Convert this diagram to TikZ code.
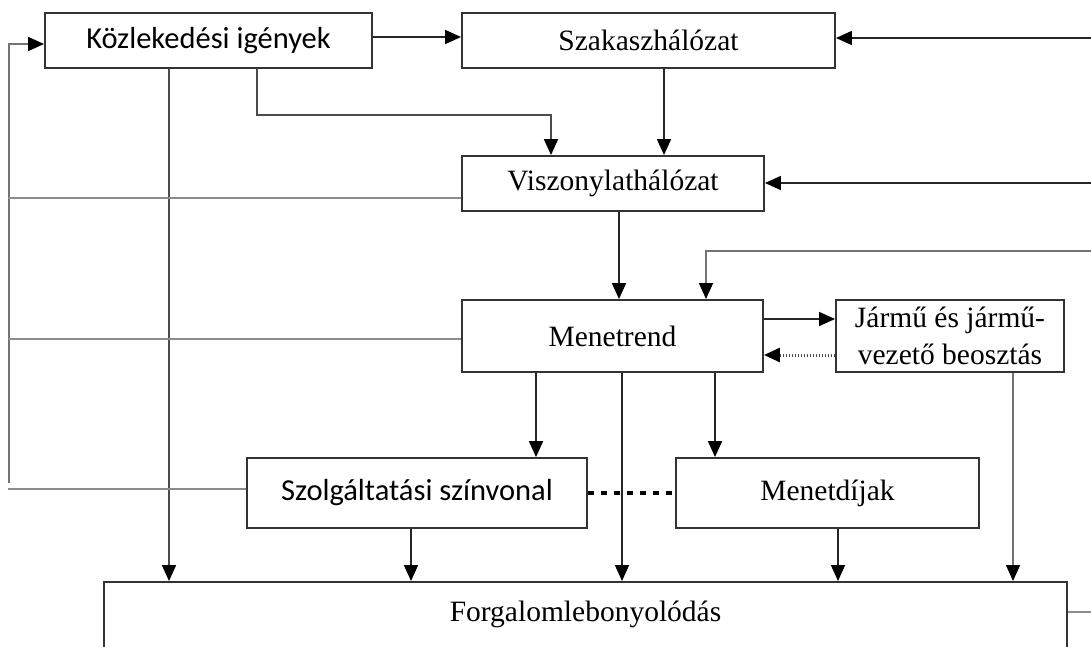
\documentclass[tikz,border=0pt]{standalone}
\usepackage{fontspec}
\newfontfamily\timesfont{Liberation Serif}
\newfontfamily\calibrifont{Carlito}
\usetikzlibrary{arrows.meta}

\begin{document}
\begin{tikzpicture}[x=1pt,y=-1pt,
  box/.style={draw=black!80, line width=1.9pt, rectangle, inner sep=0pt},
  tnr/.style={font=\timesfont\fontsize{29.5}{37}\selectfont, align=center},
  cbr/.style={font=\calibrifont\fontsize{30.5}{37}\selectfont},
  arr/.style={line width=1.8pt, draw=black!85, -{Triangle[length=16pt,width=14pt,fill=black,color=black]}},
  darkarr/.style={arr, draw=black!70},
  greyarr/.style={arr, line width=1.5pt, draw=black!55},
  gline/.style={line width=1.5pt, draw=black!45},
  dotarr/.style={arr, line width=3pt, draw=black!70, dash pattern=on 1.5pt off 1.5pt},
  dotline/.style={line width=3.5pt, draw=black, dash pattern=on 6pt off 7pt}
]
\useasboundingbox (0,0) rectangle (1091,646);

% blocks
\node[box,cbr,minimum width=327pt,minimum height=55pt] (kozl)  at (208.5,40.5) {Közlekedési igények};
\node[box,tnr,minimum width=373pt,minimum height=55pt] (szak)  at (648.5,40.5) {Szakaszhálózat};
\node[box,tnr,minimum width=302pt,minimum height=55pt] (visz)  at (613,183.5) {Viszonylathálózat};
\node[box,tnr,minimum width=301pt,minimum height=72pt] (menet) at (612.5,336) {Menetrend};
\node[box,tnr,minimum width=228pt,minimum height=72pt] (jarmu) at (950,336) {Jármű és jármű-\\vezető beosztás};
\node[box,cbr,minimum width=340pt,minimum height=70pt] (szolg) at (417,493) {Szolgáltatási színvonal};
\node[box,tnr,minimum width=303pt,minimum height=70pt] (dij)   at (827.5,493) {Menetdíjak};
\node[box,minimum width=963pt,minimum height=120pt,anchor=north] (forg) at (585.5,581) {};
\node[tnr,anchor=base] (forgtxt) at (585.5,621) {Forgalomlebonyolódás};

% column and row helpers
\coordinate (cB) at (169,0);
\coordinate (cC) at (257,0);
\coordinate (cE) at (664,0);
\coordinate (cF) at (619,0);
\coordinate (cG) at (706,0);
\coordinate (cH) at (536,0);
\coordinate (cI) at (622,0);
\coordinate (cJ) at (715,0);
\coordinate (cK) at (1013,0);
\coordinate (cL) at (411,0);
\coordinate (cM) at (838,0);
\coordinate (lx) at (8,0);
\coordinate (eb) at (551,115);
\coordinate (lb) at (9,483);
\coordinate (r1) at (1091,38);
\coordinate (r2) at (1091,183);
\coordinate (r3) at (1091,251);
\coordinate (r4) at (1091,612);

% top part
\draw[arr] ([yshift=3.5pt]kozl.east) -- ([yshift=3.5pt]szak.west);
\draw[arr] (r1) -- (r1 -| szak.east);
\draw[arr] (szak.south -| cE) -- (visz.north -| cE);
\draw[darkarr] (kozl.south -| cC) |- (eb) -- (visz.north -| eb);
\draw[darkarr] (kozl.south -| cB) -- (forg.north -| cB);
\draw[arr] (r2) -- (r2 -| visz.east);
\draw[arr] (visz.south -| cF) -- (menet.north -| cF);
\draw[greyarr] (r3) -| (menet.north -| cG);

% feedback to the demand block
\draw[greyarr] (lb) |- ([yshift=-3.5pt]kozl.west);
\draw[gline] ([yshift=-14.5pt]visz.west) coordinate (g1) -- (g1 -| lx);
\draw[gline] ([yshift=-3pt]menet.west) coordinate (g2) -- (g2 -| lx);
\draw[gline] ([yshift=4pt]szolg.west) coordinate (g3) -- (g3 -| lx);

% timetable and scheduling
\draw[arr] ([yshift=17pt]menet.east) -- ([yshift=17pt]jarmu.west);
\draw[dotarr] ([yshift=-19pt]jarmu.west) -- ([yshift=-19pt]menet.east);
\draw[arr] (menet.south -| cH) -- (szolg.north -| cH);
\draw[arr] (menet.south -| cI) -- (forg.north -| cI);
\draw[arr] (menet.south -| cJ) -- (dij.north -| cJ);
\draw[greyarr] (jarmu.south -| cK) -- (forg.north -| cK);

% lower part
\draw[dotline] (szolg.east) -- (dij.west);
\draw[arr] (szolg.south -| cL) -- (forg.north -| cL);
\draw[arr] (dij.south -| cM) -- (forg.north -| cM);
\draw[gline] (forg.east |- r4) -- (r4);
\end{tikzpicture}
\end{document}
